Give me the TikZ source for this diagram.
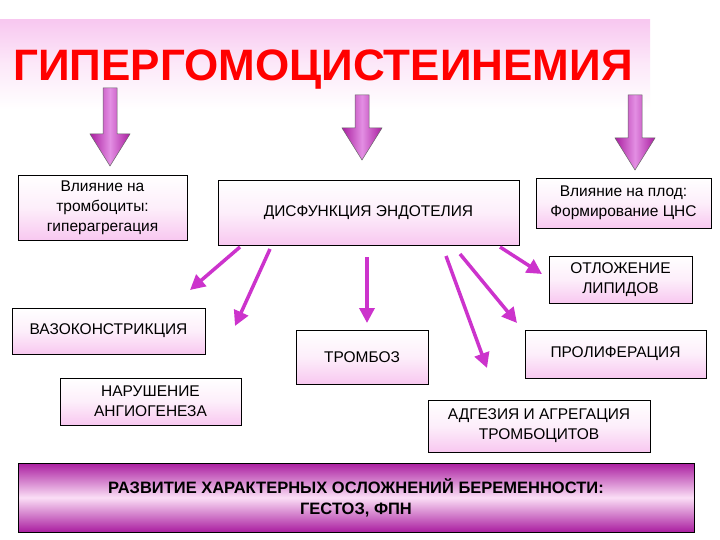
\documentclass[tikz,border=0pt]{standalone}
\usepackage{fontspec}
\setmainfont{Liberation Sans}
\usetikzlibrary{arrows.meta}
\definecolor{mag}{RGB}{204,51,204}
\definecolor{pinkA}{RGB}{248,200,240}
\definecolor{purp}{RGB}{170,30,160}
\begin{document}
\begin{tikzpicture}[x=1pt,y=-1pt,
  bx/.style={draw=black,line width=0.6pt,top color=white,bottom color=pinkA,middle color=white!70!pinkA,align=center,inner sep=0pt,font=\fontsize{15.5}{20}\selectfont},
  ln/.style={draw=mag,line width=3.5pt,-{Triangle[length=15pt,width=15pt]}},
  blk/.style={draw=black!60,line width=0.5pt,left color=purp,right color=purp,middle color=mag!55!white}]
\useasboundingbox (0,0) rectangle (720,540);
\fill[white] (0,0) rectangle (720,540);
\shade[top color=pinkA,bottom color=white,middle color=white!60!pinkA] (0,20) rectangle (650,110);
\node (t) at (323,70) {\fontsize{44}{46}\selectfont\bfseries\color{red}ГИПЕРГОМОЦИСТЕИНЕМИЯ};
\foreach \x/\a/\b in {110/88/166, 362/95/160, 635/95/170}{
  \path[blk] (\x-7,\a) -- (\x+7,\a) -- (\x+7,\b-32) -- (\x+20,\b-32) -- (\x,\b) -- (\x-20,\b-32) -- (\x-7,\b-32) -- cycle;}
\node[bx,minimum width=169pt,minimum height=65pt] (b1) at (102.5,207.5) {Влияние на\\тромбоциты:\\гиперагрегация};
\node[bx,minimum width=301pt,minimum height=65pt] (b2) at (368.5,212.5) {ДИСФУНКЦИЯ ЭНДОТЕЛИЯ};
\node[bx,minimum width=175pt,minimum height=50pt] (b3) at (623.5,203) {Влияние на плод:\\Формирование ЦНС};
\node[bx,minimum width=143pt,minimum height=47pt] (b4) at (620.5,279.5) {ОТЛОЖЕНИЕ\\ЛИПИДОВ};
\node[bx,minimum width=193pt,minimum height=46pt] (b5) at (108.5,331) {ВАЗОКОНСТРИКЦИЯ};
\node[bx,minimum width=132pt,minimum height=54pt] (b6) at (362,357) {ТРОМБОЗ};
\node[bx,minimum width=181pt,minimum height=48pt] (b7) at (615.5,354) {ПРОЛИФЕРАЦИЯ};
\node[bx,minimum width=181pt,minimum height=47pt] (b8) at (150.5,401.5) {НАРУШЕНИЕ\\АНГИОГЕНЕЗА};
\node[bx,minimum width=222pt,minimum height=52pt] (b9) at (539,426) {АДГЕЗИЯ И АГРЕГАЦИЯ\\ТРОМБОЦИТОВ};
\node[draw=black,line width=0.8pt,top color=purp,bottom color=purp,middle color=pinkA!60!white,minimum width=676pt,minimum height=69pt,align=center,font=\fontsize{16.5}{21}\selectfont\bfseries] (b10) at (356,497.5) {РАЗВИТИЕ ХАРАКТЕРНЫХ ОСЛОЖНЕНИЙ БЕРЕМЕННОСТИ:\\ГЕСТОЗ, ФПН};
\coordinate (e1) at (190,290); \coordinate (e2) at (235,326);
\coordinate (e3) at (367,323); \coordinate (e4) at (487,368);
\coordinate (e5) at (517,323); \coordinate (e6) at (542,274);
\draw[ln] (240,247) -- (e1);
\draw[ln] (270,249) -- (e2);
\draw[ln] (367,257) -- (e3);
\draw[ln] (446,256) -- (e4);
\draw[ln] (460,254) -- (e5);
\draw[ln] (500,247) -- (e6);
\end{tikzpicture}
\end{document}
